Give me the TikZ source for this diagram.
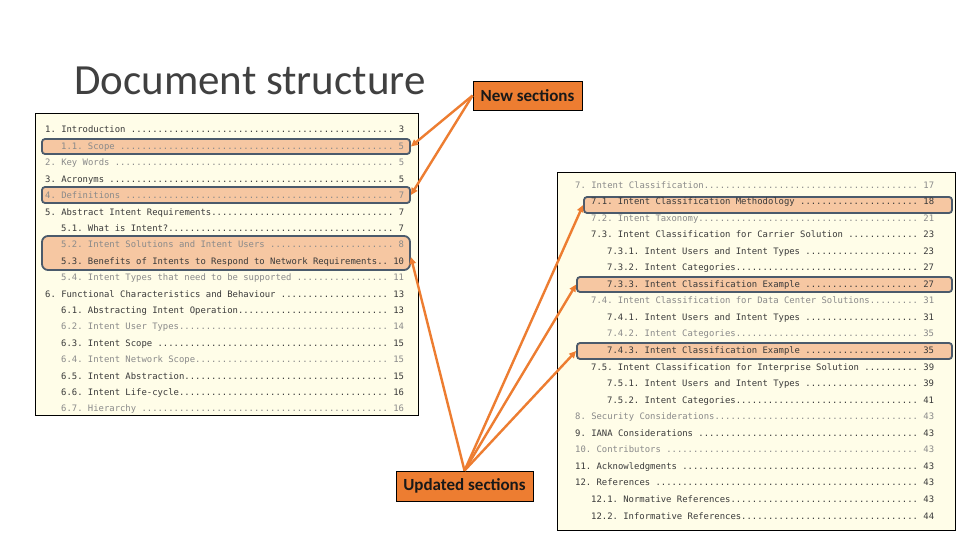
\documentclass[tikz,border=0pt]{standalone}
\usepackage{fontspec}
\setmainfont{Carlito}
\newfontfamily\tocfont[WordSpace={1,0,0}]{DejaVu Sans Mono}
\usetikzlibrary{arrows.meta}
\frenchspacing
\definecolor{orangeA}{HTML}{ED7D31}
\definecolor{hlfill}{HTML}{F6C7A2}
\definecolor{hlline}{HTML}{4B5A6B}
\definecolor{panelfill}{HTML}{FFFDE8}
\definecolor{tocdk}{HTML}{3A3A3A}
\definecolor{toclt}{HTML}{8A8A8A}
\newcommand{\tocrow}[7]{\node[#2] (#1) at (#3,#4) {\hbox to #5\fontcharwd\font`\0{#6\kern-0.4pt\leaders\hbox{.}\hfill\kern-0.4pt\ #7}};}
\tikzset{
  panel/.style={draw=black, line width=0.8pt, fill=panelfill, inner sep=0pt},
  hlbox/.style={draw=hlline, line width=1.8pt, fill=hlfill, rounded corners=3pt, inner sep=0pt},
  dk/.style={text=tocdk, font=\tocfont\fontsize{8.9}{10}\selectfont\frenchspacing, inner sep=0pt, anchor=base west},
  lt/.style={dk, text=toclt},
  tag/.style={draw=black, line width=0.8pt, fill=orangeA, text=black!90, font=\bfseries\fontsize{17}{20}\selectfont, inner sep=0pt},
  conn/.style={draw=orangeA, line width=2.4pt, -{Triangle[length=7pt,width=6.5pt]}}
}
\begin{document}
\begin{tikzpicture}[x=1pt,y=-1pt]
\useasboundingbox[fill=white] (0,0) rectangle (960,540);
\node[anchor=base west, font=\fontsize{43}{50}\selectfont, text=black!75, inner sep=0pt] (title) at (74,95) {Document structure};
% panels
\node[panel, minimum width=383pt, minimum height=302pt] (lpanel) at (226.5,264) {};
\node[panel, minimum width=398pt, minimum height=358pt] (rpanel) at (756,351) {};
% highlight boxes
\node[hlbox, minimum width=368pt, minimum height=15pt] (hscope) at (226,146.5) {};
\node[hlbox, minimum width=368pt, minimum height=16pt] (hdef) at (226,195) {};
\node[hlbox, rounded corners=6pt, minimum width=368pt, minimum height=34pt] (hfive) at (226,253) {};
\node[hlbox, minimum width=368pt, minimum height=16pt] (hseven) at (768,205) {};
\node[hlbox, minimum width=375pt, minimum height=15pt] (hsevthree) at (764.5,284.5) {};
\node[hlbox, minimum width=375pt, minimum height=16pt] (hsevfour) at (764.5,351) {};
% left TOC
\tocrow{la}{dk}{45}{133.0}{67}{1. Introduction }{3}
\tocrow{lb}{lt}{61}{149.4}{64}{1.1. Scope }{5}
\tocrow{lc}{lt}{45}{165.8}{67}{2. Key Words }{5}
\tocrow{ld}{dk}{45}{182.2}{67}{3. Acronyms }{5}
\tocrow{le}{lt}{45}{198.6}{67}{4. Definitions }{7}
\tocrow{lf}{dk}{45}{215.0}{67}{5. Abstract Intent Requirements}{7}
\tocrow{lg}{dk}{61}{231.4}{64}{5.1. What is Intent?}{7}
\tocrow{lh}{lt}{61}{247.8}{64}{5.2. Intent Solutions and Intent Users }{8}
\tocrow{li}{dk}{61}{264.2}{64}{5.3. Benefits of Intents to Respond to Network Requirements}{10}
\tocrow{lj}{lt}{61}{280.6}{64}{5.4. Intent Types that need to be supported }{11}
\tocrow{lk}{dk}{45}{297.0}{67}{6. Functional Characteristics and Behaviour }{13}
\tocrow{ll}{dk}{61}{313.4}{64}{6.1. Abstracting Intent Operation}{13}
\tocrow{lm}{lt}{61}{329.8}{64}{6.2. Intent User Types}{14}
\tocrow{ln}{dk}{61}{346.2}{64}{6.3. Intent Scope }{15}
\tocrow{lo}{lt}{61}{362.6}{64}{6.4. Intent Network Scope}{15}
\tocrow{lp}{dk}{61}{379.0}{64}{6.5. Intent Abstraction}{15}
\tocrow{lq}{dk}{61}{395.4}{64}{6.6. Intent Life-cycle}{16}
\tocrow{lr}{lt}{61}{411.8}{64}{6.7. Hierarchy }{16}
% right TOC
\tocrow{ra}{lt}{575}{188.00}{67}{7. Intent Classification}{17}
\tocrow{rb}{dk}{591}{204.55}{64}{7.1. Intent Classification Methodology }{18}
\tocrow{rc}{lt}{591}{221.10}{64}{7.2. Intent Taxonomy}{21}
\tocrow{rd}{dk}{591}{237.65}{64}{7.3. Intent Classification for Carrier Solution }{23}
\tocrow{re}{dk}{607}{254.20}{61}{7.3.1. Intent Users and Intent Types }{23}
\tocrow{rf}{dk}{607}{270.75}{61}{7.3.2. Intent Categories}{27}
\tocrow{rg}{dk}{607}{287.30}{61}{7.3.3. Intent Classification Example }{27}
\tocrow{rh}{lt}{591}{303.85}{64}{7.4. Intent Classification for Data Center Solutions}{31}
\tocrow{ri}{dk}{607}{320.40}{61}{7.4.1. Intent Users and Intent Types }{31}
\tocrow{rj}{lt}{607}{336.95}{61}{7.4.2. Intent Categories}{35}
\tocrow{rk}{dk}{607}{353.50}{61}{7.4.3. Intent Classification Example }{35}
\tocrow{rl}{dk}{591}{370.05}{64}{7.5. Intent Classification for Interprise Solution }{39}
\tocrow{rm}{dk}{607}{386.60}{61}{7.5.1. Intent Users and Intent Types }{39}
\tocrow{rn}{dk}{607}{403.15}{61}{7.5.2. Intent Categories}{41}
\tocrow{ro}{lt}{575}{419.70}{67}{8. Security Considerations}{43}
\tocrow{rp}{dk}{575}{436.25}{67}{9. IANA Considerations }{43}
\tocrow{rq}{lt}{575}{452.80}{67}{10. Contributors }{43}
\tocrow{rr}{dk}{575}{469.35}{67}{11. Acknowledgments }{43}
\tocrow{rs}{dk}{575}{485.90}{67}{12. References }{43}
\tocrow{rt}{dk}{591}{502.45}{64}{12.1. Normative References}{43}
\tocrow{ru}{dk}{591}{519.00}{64}{12.2. Informative References}{44}
% tags
\node[tag, minimum width=109pt, minimum height=29pt] (newsec) at (527.5,95.5) {New sections};
\node[tag, minimum width=137pt, minimum height=30pt] (updsec) at (464.5,486) {Updated sections};
% connectors
\draw[conn] (newsec.west) -- (hscope.east);
\draw[conn] (newsec.west) -- (hdef.east);
\draw[conn] (updsec.north) -- ([yshift=-4pt]hfive.east);
\draw[conn] (updsec.north) -- (hseven.west);
\draw[conn] (updsec.north) -- (hsevthree.west);
\draw[conn] (updsec.north) -- (hsevfour.west);
\end{tikzpicture}
\end{document}
